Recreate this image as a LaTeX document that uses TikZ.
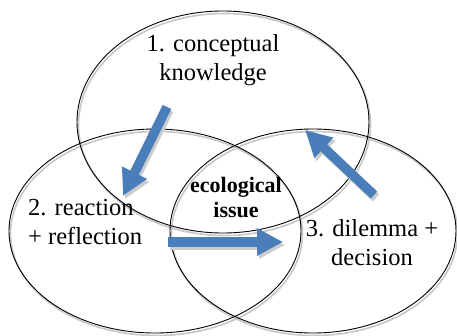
\documentclass[tikz,border=0pt]{standalone}
\usepackage{fontspec}
\setmainfont{Liberation Serif}
\usetikzlibrary{arrows.meta}
\definecolor{arrowblue}{HTML}{4A7EBB}
\tikzset{
  circ/.style={draw=black, line width=0.9pt},
  circshadow/.style={draw=black!22, line width=1.6pt},
  blockarrow/.style={draw=arrowblue, line width=9.5pt, line cap=butt, -{Triangle[width=26pt,length=26pt]}},
  arrowshadow/.style={draw=black!20, line width=9.5pt, line cap=butt, -{Triangle[width=26pt,length=26pt]}},
  lbl/.style={inner sep=0pt, font=\fontsize{24.5pt}{29pt}\selectfont},
  core/.style={inner sep=0pt, font=\fontsize{22pt}{25.5pt}\selectfont\bfseries, align=center},
}
\begin{document}
\begin{tikzpicture}[x=1pt,y=-1pt]
\useasboundingbox (0,0) rectangle (457,335);
% shadows of circles
\draw[circshadow] (224.5,124.5) ellipse [x radius=146, y radius=111];
\draw[circshadow] (156.5,233.5) ellipse [x radius=146, y radius=102];
\draw[circshadow] (314.5,233.5) ellipse [x radius=143, y radius=102];
% circles
\draw[circ] (223,122) ellipse [x radius=146, y radius=111];
\draw[circ] (155,231) ellipse [x radius=146, y radius=102];
\draw[circ] (313,231) ellipse [x radius=143, y radius=102];
% arrow end points
\coordinate (a1s) at (167,107);
\coordinate (a1e) at (123,196);
\coordinate (a2s) at (168,242);
\coordinate (a2e) at (283,242);
\coordinate (a3s) at (374,195);
\coordinate (a3e) at (305,130);
% arrow shadows
\draw[arrowshadow] ([shift={(2,3)}]a1s) -- ([shift={(2,3)}]a1e);
\draw[arrowshadow] ([shift={(2,3)}]a2s) -- ([shift={(2,3)}]a2e);
\draw[arrowshadow] ([shift={(2,3)}]a3s) -- ([shift={(2,3)}]a3e);
% arrows
\draw[blockarrow] (a1s) -- (a1e);
\draw[blockarrow] (a2s) -- (a2e);
\draw[blockarrow] (a3s) -- (a3e);
% labels
\node[lbl, align=center] (know) at (213,59.8) {1. conceptual\\knowledge};
\node[lbl, align=left, anchor=west] (react) at (28,221.7) {2. reaction\\+ reflection};
\node[lbl, align=center] (dilem) at (372,242.6) {3. dilemma +\\decision};
\node[core] (eco) at (236,197.3) {ecological\\issue};
\end{tikzpicture}
\end{document}
